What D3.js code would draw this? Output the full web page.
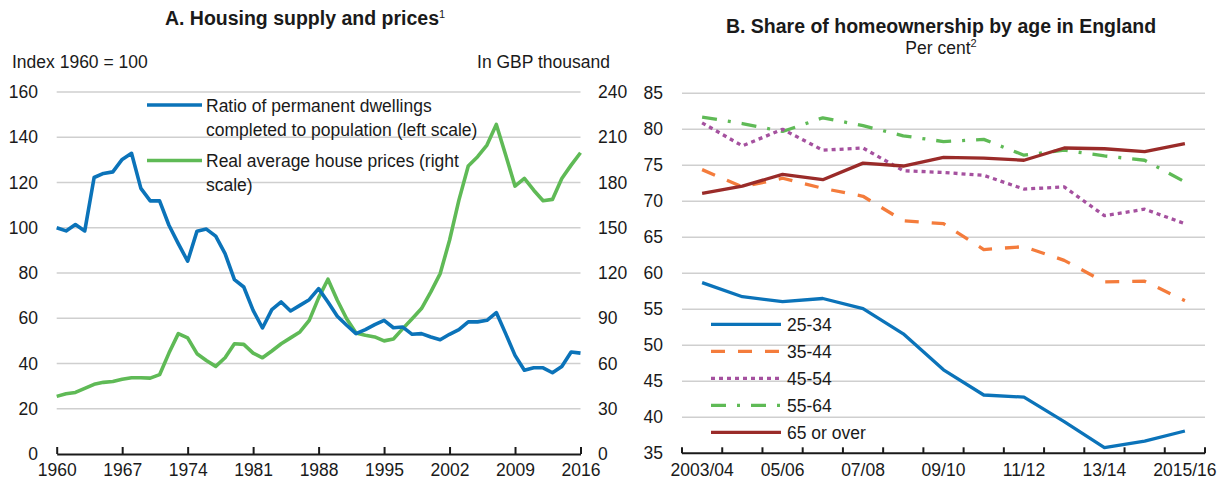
<!DOCTYPE html>
<html>
<head>
<meta charset="utf-8">
<script src="https://cdn.jsdelivr.net/npm/d3@7"></script>
<style>
  body { margin: 0; background: #fff; }
  text { font-family: "Liberation Sans", Arial, Helvetica, sans-serif; fill: #1a1a1a; }
</style>
</head>
<body>
<svg id="chart" width="1218" height="480"></svg>
<script>
// ---- Panel A data: housing supply and prices, 1960-2016 ----
const years = [1960,1961,1962,1963,1964,1965,1966,1967,1968,1969,
  1970,1971,1972,1973,1974,1975,1976,1977,1978,1979,
  1980,1981,1982,1983,1984,1985,1986,1987,1988,1989,
  1990,1991,1992,1993,1994,1995,1996,1997,1998,1999,
  2000,2001,2002,2003,2004,2005,2006,2007,2008,2009,
  2010,2011,2012,2013,2014,2015,2016];

// Ratio of permanent dwellings completed to population (index 1960 = 100, left scale)
const dwellingsRatio = [100.0, 98.6, 101.4, 98.6, 122.2, 124.0, 124.7, 130.2, 132.9, 117.4,
  111.9, 111.9, 101.1, 93.0, 85.2, 98.5, 99.4, 96.3, 88.6, 77.1,
  73.8, 63.5, 55.7, 63.8, 67.2, 63.2, 65.7, 68.2, 73.1, 67.2,
  60.9, 56.9, 53.2, 55.0, 57.2, 59.1, 55.8, 56.1, 52.9, 53.2,
  51.7, 50.5, 52.9, 55.0, 58.4, 58.4, 59.1, 62.5, 53.2, 43.6,
  37.0, 38.1, 38.1, 35.9, 38.7, 45.1, 44.6];

// Real average house prices (GBP thousand, right scale)
const housePrices = [38.2, 39.9, 40.8, 43.5, 46.2, 47.5, 48.1, 49.5, 50.6, 50.6,
  50.3, 52.6, 66.9, 79.8, 77.0, 66.5, 62.0, 58.1, 63.8, 73.1,
  72.7, 66.9, 63.8, 68.3, 73.1, 77.0, 80.9, 88.6, 103.5, 115.9,
  101.9, 89.7, 80.2, 78.7, 77.6, 75.0, 76.3, 83.1, 89.7, 96.4,
  107.5, 119.6, 141.7, 168.3, 190.9, 197.1, 204.8, 218.5, 198.2, 177.6,
  182.7, 174.9, 167.9, 168.8, 182.7, 191.5, 199.7];

const yearTicks = [1960, 1967, 1974, 1981, 1988, 1995, 2002, 2009, 2016];
const leftTicks = [0, 20, 40, 60, 80, 100, 120, 140, 160];
const rightTicks = [0, 30, 60, 90, 120, 150, 180, 210, 240];

// ---- Panel B data: share of homeownership by age in England (per cent) ----
const periods = ["2003/04","04/05","05/06","06/07","07/08","08/09","09/10",
  "10/11","11/12","12/13","13/14","14/15","2015/16"];
const periodLabels = ["2003/04","05/06","07/08","09/10","11/12","13/14","2015/16"];
const age25to34 = [58.7, 56.75, 56.06, 56.5, 55.1, 51.6, 46.6, 43.1, 42.8, 39.4, 35.8, 36.7, 38.1];
const age35to44 = [74.4, 72.0, 73.2, 71.8, 70.7, 67.3, 66.9, 63.3, 63.7, 61.8, 58.8, 58.9, 56.2];
const age45to54 = [80.9, 77.7, 80.0, 77.1, 77.4, 74.25, 74.0, 73.6, 71.7, 72.0, 68.0, 68.9, 66.9];
const age55to64 = [81.7, 80.8, 79.7, 81.6, 80.5, 79.1, 78.3, 78.6, 76.4, 77.1, 76.3, 75.7, 72.7];
const age65plus = [71.1, 72.1, 73.75, 73.0, 75.3, 74.9, 76.1, 76.0, 75.7, 77.4, 77.3, 76.9, 78.0];
const shareTicks = [35, 40, 45, 50, 55, 60, 65, 70, 75, 80, 85];

const svg = d3.select("#chart");
const GRID = "#cfcfcf";
const FS = 17.5;

// ================= Panel A =================
const gA = svg.append("g");
const xA = d3.scaleLinear().domain([1960, 2016]).range([56.7, 580.5]);
const yL = d3.scaleLinear().domain([0, 160]).range([454, 92]);
const yR = d3.scaleLinear().domain([0, 240]).range([454, 92]);

gA.append("text").attr("x", 305).attr("y", 25).attr("text-anchor", "middle")
  .style("font-weight", "bold").style("font-size", "19.5px")
  .html('A. Housing supply and prices<tspan dy="-7" style="font-size:11px;font-weight:normal">1</tspan>');
gA.append("text").attr("x", 12).attr("y", 68).style("font-size", FS + "px").text("Index 1960 = 100");
gA.append("text").attr("x", 610).attr("y", 68).attr("text-anchor", "end").style("font-size", FS + "px").text("In GBP thousand");

// horizontal gridlines
gA.selectAll("line.grid").data(leftTicks.filter(d => d > 0)).join("line")
  .attr("x1", xA(1960)).attr("x2", xA(2016))
  .attr("y1", d => yL(d)).attr("y2", d => yL(d))
  .attr("stroke", GRID).attr("stroke-width", 1.6);

// left axis labels
gA.selectAll("text.yl").data(leftTicks).join("text")
  .attr("x", 38).attr("y", d => yL(d)).attr("dy", "0.35em")
  .attr("text-anchor", "end").style("font-size", FS + "px").text(d => d);
// right axis labels
gA.selectAll("text.yr").data(rightTicks).join("text")
  .attr("x", 598).attr("y", d => yR(d)).attr("dy", "0.35em")
  .attr("text-anchor", "start").style("font-size", FS + "px").text(d => d);

// bottom axis
const axA = gA.append("g").attr("transform", `translate(0,${yL(0)})`)
  .call(d3.axisBottom(xA).tickValues(yearTicks).tickFormat(d3.format("d"))
    .tickSizeInner(-7).tickSizeOuter(0).tickPadding(10));
axA.select(".domain").attr("stroke", "#1a1a1a").attr("stroke-width", 2);
axA.selectAll(".tick line").attr("stroke", "#1a1a1a").attr("stroke-width", 2);
axA.selectAll(".tick text").style("font-size", FS + "px").attr("fill", "#1a1a1a")
  .style("font-family", '"Liberation Sans", Arial, sans-serif');

const lineL = d3.line().x((d, i) => xA(years[i])).y(d => yL(d));
const lineR = d3.line().x((d, i) => xA(years[i])).y(d => yR(d));

const BLUE = "#0b73b9", GREEN = "#5fba56";
gA.append("path").datum(housePrices).attr("d", lineR)
  .attr("fill", "none").attr("stroke", GREEN).attr("stroke-width", 3.6).attr("stroke-linejoin", "round");
gA.append("path").datum(dwellingsRatio).attr("d", lineL)
  .attr("fill", "none").attr("stroke", BLUE).attr("stroke-width", 3.6).attr("stroke-linejoin", "round");

// legend A
const legA = [
  { color: BLUE, y: 105, lines: ["Ratio of permanent dwellings", "completed to population (left scale)"] },
  { color: GREEN, y: 160.5, lines: ["Real average house prices (right", "scale)"] }
];
legA.forEach(item => {
  gA.append("line").attr("x1", 147).attr("x2", 202).attr("y1", item.y).attr("y2", item.y)
    .attr("stroke", item.color).attr("stroke-width", 3.6);
  item.lines.forEach((t, k) => {
    gA.append("text").attr("x", 206).attr("y", item.y + 6.5 + k * 24)
      .style("font-size", FS + "px").text(t);
  });
});

// ================= Panel B =================
const gB = svg.append("g");
const xB = d3.scaleBand().domain(periods).range([682, 1205]);
const yB = d3.scaleLinear().domain([35, 85]).range([453.3, 93.3]);

gB.append("text").attr("x", 941).attr("y", 33).attr("text-anchor", "middle")
  .style("font-weight", "bold").style("font-size", "19.5px")
  .text("B. Share of homeownership by age in England");
gB.append("text").attr("x", 941).attr("y", 54).attr("text-anchor", "middle")
  .style("font-size", FS + "px")
  .html('Per cent<tspan dy="-7" style="font-size:11px">2</tspan>');

gB.selectAll("line.grid").data(shareTicks.filter(d => d > 35)).join("line")
  .attr("x1", 682).attr("x2", 1205)
  .attr("y1", d => yB(d)).attr("y2", d => yB(d))
  .attr("stroke", GRID).attr("stroke-width", 1.6);

gB.selectAll("text.yb").data(shareTicks).join("text")
  .attr("x", 663).attr("y", d => yB(d)).attr("dy", "0.35em")
  .attr("text-anchor", "end").style("font-size", FS + "px").text(d => d);

// axis line with ticks at category boundaries
const boundaries = periods.map(p => xB(p)).concat([xB.range()[1]]);
const axB = gB.append("g").attr("transform", `translate(0,${yB(35)})`);
axB.append("line").attr("x1", 682).attr("x2", 1205).attr("stroke", "#1a1a1a").attr("stroke-width", 2);
axB.selectAll("line.tk").data(boundaries).join("line")
  .attr("x1", d => d).attr("x2", d => d).attr("y1", 0).attr("y2", -6)
  .attr("stroke", "#1a1a1a").attr("stroke-width", 2);
axB.selectAll("text").data(periodLabels).join("text")
  .attr("x", d => xB(d) + xB.bandwidth() / 2).attr("y", 17).attr("dy", "0.35em")
  .attr("text-anchor", "middle").style("font-size", FS + "px").text(d => d);

const lineB = d3.line().x((d, i) => xB(periods[i]) + xB.bandwidth() / 2).y(d => yB(d));
const seriesB = [
  { name: "25-34", data: age25to34, color: "#0b73b9", dash: null },
  { name: "35-44", data: age35to44, color: "#f47c3c", dash: "14,13" },
  { name: "45-54", data: age45to54, color: "#a5519f", dash: "4,4" },
  { name: "55-64", data: age55to64, color: "#5fba56", dash: "15,11,3,11" },
  { name: "65 or over", data: age65plus, color: "#9a2b29", dash: null }
];

// draw back-to-front so that the solid lines sit on top
[seriesB[3], seriesB[2], seriesB[1], seriesB[4], seriesB[0]].forEach(s => {
  gB.append("path").datum(s.data).attr("d", lineB)
    .attr("fill", "none").attr("stroke", s.color).attr("stroke-width", 3.3)
    .attr("stroke-dasharray", s.dash).attr("stroke-linejoin", "round");
});

seriesB.forEach((s, i) => {
  const y = 324.3 + i * 27;
  gB.append("line").attr("x1", 711).attr("x2", 781).attr("y1", y).attr("y2", y)
    .attr("stroke", s.color).attr("stroke-width", 3.3).attr("stroke-dasharray", s.dash);
  gB.append("text").attr("x", 787).attr("y", y + 6.5).style("font-size", FS + "px").text(s.name);
});
</script>
</body>
</html>
